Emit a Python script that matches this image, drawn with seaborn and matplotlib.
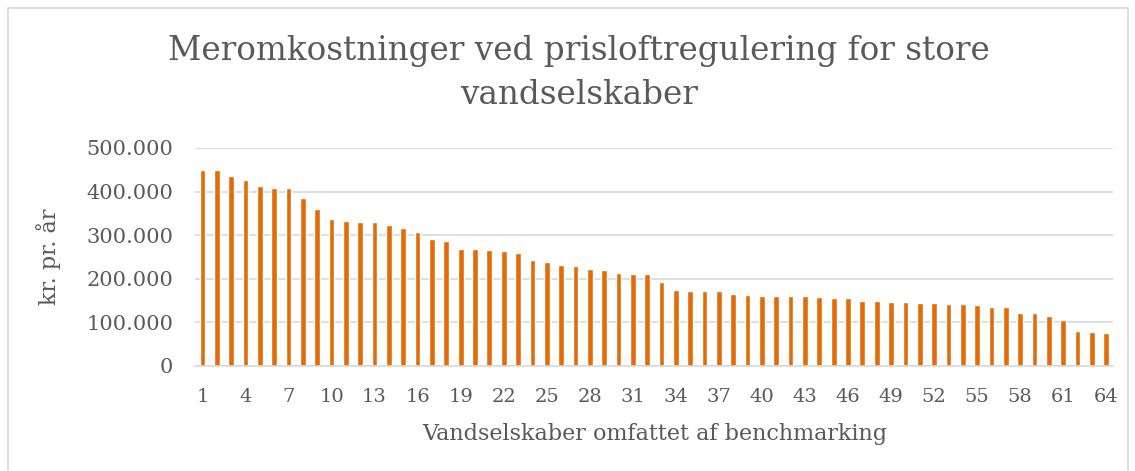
import pandas as pd
import matplotlib.pyplot as plt
import matplotlib.ticker as mticker
import seaborn as sns

# values (kr. pr. år)
companies = [str(i) for i in range(1, 65)]
extra_costs = [
    449000, 449000, 435000, 427000, 412000, 408000, 407000, 386000,
    359000, 336000, 333000, 330000, 330000, 323000, 316000, 307000,
    292000, 287000, 268000, 268000, 265000, 263000, 259000, 242000,
    238000, 232000, 229000, 222000, 220000, 214000, 212000, 211000,
    193000, 175000, 173000, 171000, 171000, 166000, 163000, 161000,
    161000, 161000, 160000, 157000, 155000, 155000, 150000, 148000,
    146000, 146000, 145000, 145000, 143000, 143000, 139000, 136000,
    135000, 121000, 121000, 115000, 106000, 81000, 78000, 76000,
]
tick_labels = companies[::3]

df = pd.DataFrame({"selskab": companies, "kr": extra_costs})

sns.set_style("white")
plt.rcParams['font.family'] = ['DejaVu Serif']
text_color = "#595959"

fig = plt.figure(figsize=(11.35, 4.71), dpi=100)
ax = fig.add_axes([0.172, 0.223, 0.809, 0.463])

sns.barplot(data=df, x="selskab", y="kr", order=companies, color="#E36C09",
            saturation=1, width=0.4, ax=ax)

ax.set_xlim(-0.5, 63.5)
ax.set_ylim(0, 500000)
ax.set_yticks(range(0, 500001, 100000))
ax.yaxis.set_major_formatter(mticker.FuncFormatter(lambda v, p: f"{int(v):,}".replace(",", ".")))
ax.set_xticks(range(0, 64, 3))
ax.set_xticklabels(tick_labels)

ax.grid(axis="y", color="#d9d9d9", linewidth=1.2)
ax.set_axisbelow(True)
for s in ["top", "right", "left"]:
    ax.spines[s].set_visible(False)
ax.spines["bottom"].set_color("#d9d9d9")
ax.spines["bottom"].set_linewidth(1.2)
ax.tick_params(axis="both", length=0, colors=text_color)
ax.tick_params(axis="x", pad=16, labelsize=14)
ax.tick_params(axis="y", pad=16, labelsize=15)

ax.set_xlabel("Vandselskaber omfattet af benchmarking", fontsize=16, color=text_color, labelpad=12)
ax.set_ylabel("kr. pr. år", fontsize=16, color=text_color, labelpad=18)
fig.suptitle("Meromkostninger ved prisloftregulering for store\nvandselskaber",
             x=0.51, y=0.925, va="top", fontsize=23.5, color=text_color, linespacing=1.45)

# light frame around the chart
frame = plt.Rectangle((8 / 1135, -0.01), 1120 / 1135, 1 - 8 / 471 + 0.01,
                      transform=fig.transFigure, fill=False,
                      edgecolor="#d9d9d9", linewidth=1.2)
fig.patches.append(frame)

plt.savefig("out.png", dpi=100)
plt.close()
